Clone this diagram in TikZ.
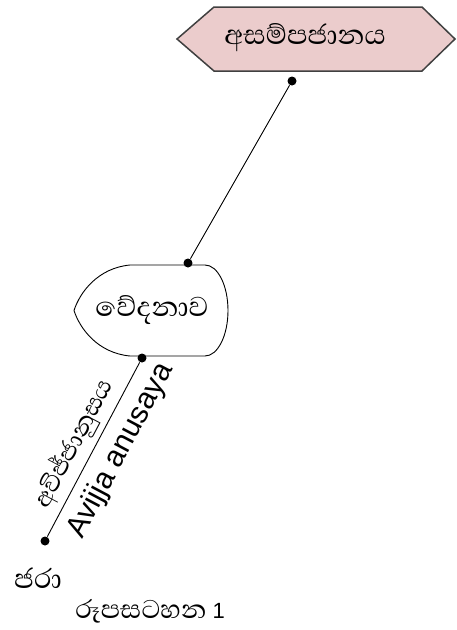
\documentclass[tikz,border=0pt]{standalone}
\usepackage{fontspec}
\setmainfont{Liberation Sans}
\newfontfamily\sinhala[Script=Sinhala]{Abhaya Libre}
\usepackage{xcolor}
\usepackage{tikz}
\usetikzlibrary{positioning}

\definecolor{hexfill}{HTML}{EBCCCC}
\definecolor{hexline}{HTML}{404040}

\begin{document}
\begin{tikzpicture}[x=1pt,y=-1pt,line width=0.9pt,
  dot/.style={circle,fill=black,inner sep=0pt,minimum size=9pt},
  sin/.style={font=\sinhala\fontsize{35}{40}\selectfont},
  sinsmall/.style={font=\sinhala\fontsize{31}{36}\selectfont},
  lat/.style={font=\fontsize{30}{34}\selectfont}]
\useasboundingbox (0,0) rectangle (456,630);
\draw[fill=hexfill,draw=hexline,line width=1.5pt] (177,39) -- (214,7) -- (422,7) -- (455,39) -- (422,71) -- (214,71) -- cycle;
\node[sin]   (A)  at (305,38)  {අසම්පජානය};
\draw (205,265) -- (130,265) .. controls (98,268) and (80,292) .. (74,310.5)
      .. controls (80,329) and (98,353) .. (130,356) -- (205,356)
      arc[start angle=90,end angle=-90,x radius=23,y radius=45.5] -- cycle;
\node[sin]   (V)  at (152,310) {වේදනාව};
\node[dot]   (d1) at (292,81)  {};
\node[dot]   (d2) at (188,263) {};
\node[dot]   (d3) at (142,358) {};
\node[dot]   (d4) at (45,541)  {};
\node[sin]   (J)  at (38,578)  {ජරා};
\node[font=\sinhala\fontsize{33}{38}\selectfont] (F) [below right=3pt and 6pt of J] {රූපසටහන {\normalfont\fontsize{22}{26}\selectfont 1}};
\path (d1) edge (d2)
      (d4) edge node[sinsmall,sloped,above=2pt,pos=0.48] {අවිජ්ජානුසය}
                node[lat,sloped,below=7pt,pos=0.56] {Avijja anusaya} (d3);
\end{tikzpicture}
\end{document}
